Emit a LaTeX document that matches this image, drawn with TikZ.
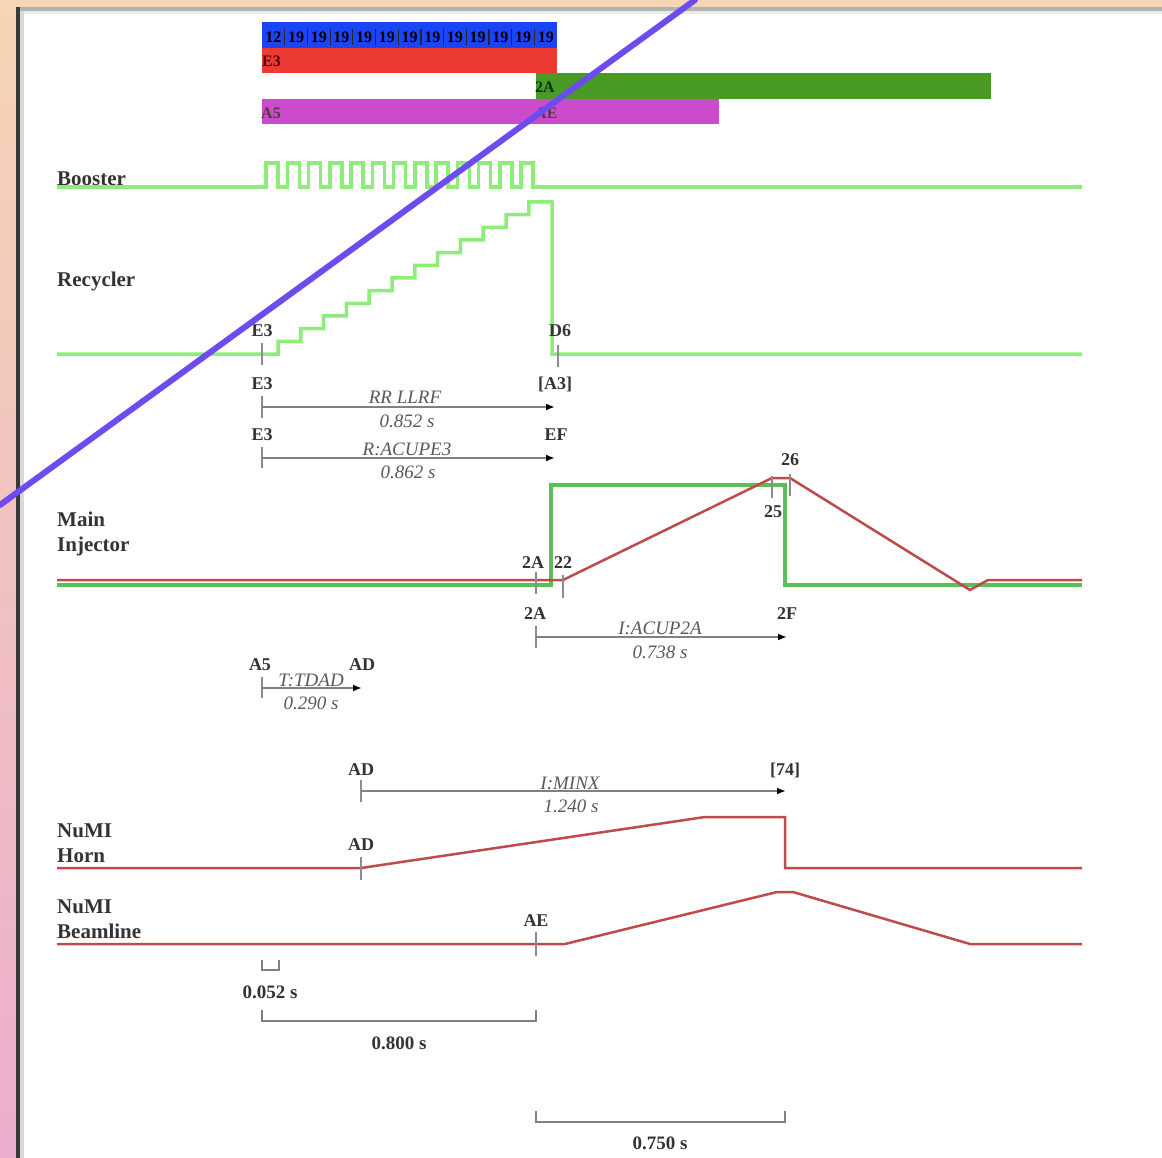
\documentclass[tikz,border=0pt]{standalone}
\usepackage{xcolor}
\usepackage{fontspec}
\setmainfont{Liberation Serif}
\usepackage{tikz}
\usetikzlibrary{arrows.meta,positioning,calc}

\definecolor{pagepeach}{RGB}{246,212,180}
\definecolor{pagepink}{RGB}{235,174,206}
\definecolor{barblue}{RGB}{26,68,245}
\definecolor{barred}{RGB}{238,58,52}
\definecolor{bargreen}{RGB}{74,154,38}
\definecolor{barmagenta}{RGB}{204,74,204}
\definecolor{boostgreen}{RGB}{140,238,120}
\definecolor{migreen}{RGB}{92,190,90}
\definecolor{rampred}{RGB}{190,75,75}
\definecolor{scribble}{RGB}{110,75,240}

\begin{document}
\begin{tikzpicture}[x=1pt, y=-1pt,
        siglabel/.style={anchor=west, inner sep=0pt, align=left,
            font=\fontsize{21}{25}\selectfont\bfseries, text=black!80},
        evlabel/.style={inner sep=0pt, font=\fontsize{18}{20}\selectfont\bfseries, text=black!80},
        timertext/.style={inner sep=0pt, font=\fontsize{19}{20}\selectfont\itshape, text=black!65},
        scaletext/.style={inner sep=0pt, font=\fontsize{19}{20}\selectfont\bfseries, text=black!80},
        barlabel/.style={anchor=west, inner sep=1pt, font=\fontsize{16}{17}\selectfont\bfseries},
        lightsig/.style={draw=boostgreen, line width=3.5pt},
        misig/.style={draw=migreen, line width=3.5pt},
        redsig/.style={draw=rampred, line width=2.5pt},
        tick/.style={draw=black!45, line width=1.5pt},
        timer/.style={draw=black!50, line width=2pt, -{Latex[black,length=9pt,width=7pt]}},
        span/.style={draw=black!50, line width=2pt},
      ]
      % Page frame
      \useasboundingbox (0,0) rectangle (1162,1158);
      \shade [top color=pagepeach, bottom color=pagepink] (0,0) rectangle (1162,1158);
      \fill [white] (20,11) rectangle (1162,1158);
      \fill [black!30] (16,7) rectangle (1162,11);
      \fill [black!8] (20,11) rectangle (1162,14);
      \fill [black!78] (16,7) rectangle (20,1158);
      \fill [black!15] (20,11) rectangle (24,1158);

      % Top bars
      \fill [barblue] (262,22) rectangle (557,48);
      \fill [barred] (262,48) rectangle (557,73);
      \fill [bargreen] (536,73) rectangle (991,99);
      \fill [barmagenta] (262,99) rectangle (719,124);
      \foreach \k in {0,...,12} {
          \pgfmathsetmacro{\cx}{262+22.7*\k+11.35}
          \ifnum\k=0
            \node [barlabel, anchor=center, inner sep=0pt] (cell\k) at (\cx,37) {12};
          \else
            \node [barlabel, anchor=center, inner sep=0pt] (cell\k) at (\cx,37) {19};
            \draw [black!85, line width=1.2pt] (262+22.7*\k,29) -- (262+22.7*\k,45);
          \fi
        }
      \node [barlabel, text=black!70!red] (bare3) at (261,61) {E3};
      \node [barlabel, text=black!80!green] (bar2a) at (534,87) {2A};
      \node [barlabel, text=black!80!magenta] (bara5) at (260,113) {A5};
      \node [barlabel, text=black!80!magenta] (barae) at (534,113) {AE};

      % Booster
      \node [siglabel] (booster) at (57,179) {Booster};
      \draw [lightsig] (57,187) -- (266,187)
        \foreach \k in {0,...,12} { -- ++(0,-24) -- ++(12,0) -- ++(0,24) -- ++(9.25,0) }
        -- (1082,187);

      % Recycler
      \node [siglabel] (recycler) at (57,281) {Recycler};
      \draw [lightsig] (57,354) -- (278,354)
        \foreach \k in {1,...,12} { -- ++(0,-12.67) -- ++(22.8,0) }
        -- (552,202) -- (552,354) -- (1082,354);
      \draw [tick] (262,343) -- (262,365);
      \draw [tick] (558,345) -- (558,367);
      \node [evlabel] (rre3) at (262,331) {E3};
      \node [evlabel] (rrd6) at (560,331) {D6};

      % Recycler timers
      \node [evlabel] (llrfa) at (262,384) {E3};
      \node [evlabel] (llrfb) at (555,384) {[A3]};
      \coordinate (llrfs) at (262,407);
      \coordinate (llrfe) at (555,407);
      \draw [tick] (262,396) -- (262,418);
      \draw [timer] (llrfs) -- (llrfe);
      \node [timertext] at (405,397) {RR LLRF};
      \node [timertext] at (407,421) {0.852 s};

      \node [evlabel] (acpa) at (262,435) {E3};
      \node [evlabel] (acpb) at (556,435) {EF};
      \coordinate (acps) at (262,458);
      \coordinate (acpe) at (555,458);
      \draw [tick] (262,447) -- (262,468);
      \draw [timer] (acps) -- (acpe);
      \node [timertext] at (407,449) {R:ACUPE3};
      \node [timertext] at (408,472) {0.862 s};

      % Main Injector
      \node [siglabel] (mainlbl) at (57,534) {Main\\Injector};
      \draw [misig] (57,585) -- (551,585) -- (551,485) -- (785,485) -- (785,585) -- (1082,585);
      \draw [redsig] (57,580) -- (563,580) -- (772,478) -- (790,478) -- (970,590) -- (988,580) -- (1082,580);
      \draw [tick] (536,572) -- (536,594);
      \draw [tick] (563,575) -- (563,598);
      \draw [tick] (772,476) -- (772,498);
      \draw [tick] (790,474) -- (790,496);
      \node [evlabel] (mi2a) at (533,563) {2A};
      \node [evlabel] (mi22) at (563,563) {22};
      \node [evlabel] (mi25) at (773,512) {25};
      \node [evlabel] (mi26) at (790,460) {26};

      % Main Injector timers
      \node [evlabel] (cupa) at (535,614) {2A};
      \node [evlabel] (cupb) at (787,614) {2F};
      \coordinate (cups) at (536,637);
      \coordinate (cupe) at (787,637);
      \draw [tick] (536,626) -- (536,648);
      \draw [timer] (cups) -- (cupe);
      \node [timertext] at (660,628) {I:ACUP2A};
      \node [timertext] at (660,652) {0.738 s};

      \node [evlabel] (tda) at (260,665) {A5};
      \node [evlabel] (tdb) at (362,665) {AD};
      \coordinate (tds) at (262,688);
      \coordinate (tde) at (362,688);
      \draw [tick] (262,677) -- (262,698);
      \draw [timer] (tds) -- (tde);
      \node [timertext] at (311,680) {T:TDAD};
      \node [timertext] at (311,703) {0.290 s};

      % NuMI
      \node [evlabel] (mnxa) at (361,770) {AD};
      \node [evlabel] (mnxb) at (785,770) {[74]};
      \coordinate (mnxs) at (361,791);
      \coordinate (mnxe) at (786,791);
      \draw [tick] (361,780) -- (361,802);
      \draw [timer] (mnxs) -- (mnxe);
      \node [timertext] at (570,783) {I:MINX};
      \node [timertext] at (571,806) {1.240 s};

      \node [siglabel] (hornlbl) at (57,843) {NuMI\\Horn};
      \draw [redsig] (57,868) -- (361,868) -- (705,817) -- (785,817) -- (785,868) -- (1082,868);
      \draw [tick] (361,857) -- (361,880);
      \node [evlabel] (hornad) at (361,845) {AD};

      \node [siglabel] (beamlbl) at (57,919) {NuMI\\Beamline};
      \draw [redsig] (57,944) -- (565,944) -- (777,892) -- (793,892) -- (970,944) -- (1082,944);
      \draw [tick] (536,932) -- (536,956);
      \node [evlabel] (beamae) at (536,921) {AE};

      % Scale bars
      \draw [span] (262,960) -- (262,970) -- (279,970) -- (279,960);
      \node [scaletext] at (270,992) {0.052 s};
      \draw [span] (262,1010) -- (262,1021) -- (536,1021) -- (536,1010);
      \node [scaletext] at (399,1043) {0.800 s};
      \draw [span] (536,1111) -- (536,1122) -- (785,1122) -- (785,1111);
      \node [scaletext] at (660,1143) {0.750 s};

      % Pen stroke
      \draw [scribble, line width=6pt, line cap=round] (0,505) -- (695,0);
    \end{tikzpicture}
\end{document}
